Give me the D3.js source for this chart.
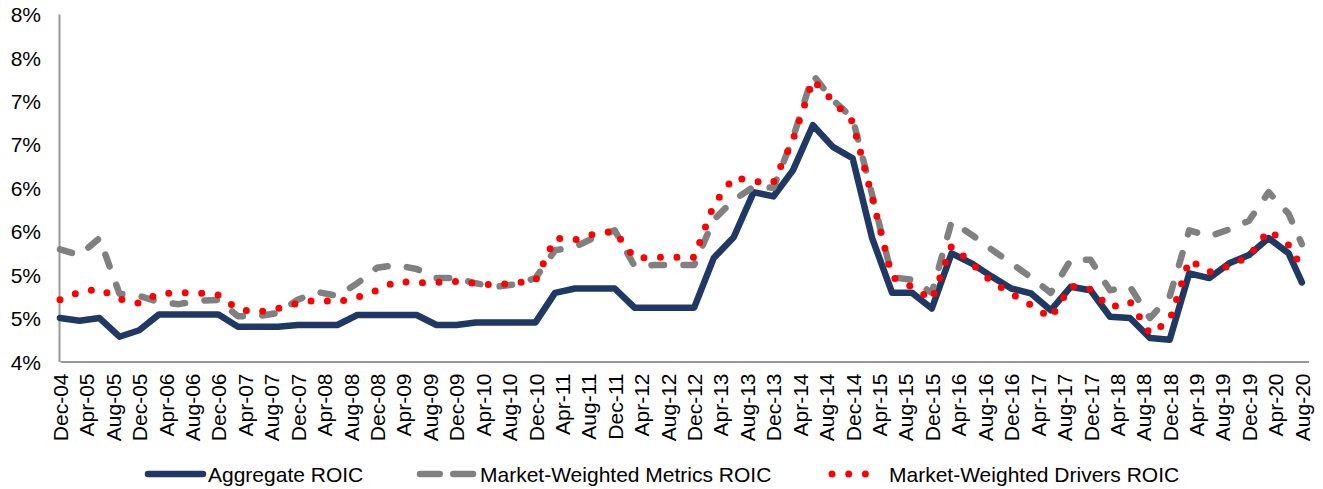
<!DOCTYPE html>
<html>
<head>
<meta charset="utf-8">
<script src="https://cdn.jsdelivr.net/npm/d3@7"></script>
<style>
  html, body { margin: 0; padding: 0; background: #fff; }
  svg { display: block; font-family: "Liberation Sans", Arial, sans-serif; }
</style>
</head>
<body>
<svg id="chart" width="1323" height="489"></svg>
<script>
// Quarterly observation dates (last point is the latest month available)
const periods = [
  "Dec-04","Mar-05","Jun-05","Sep-05","Dec-05","Mar-06","Jun-06","Sep-06","Dec-06",
  "Mar-07","Jun-07","Sep-07","Dec-07","Mar-08","Jun-08","Sep-08","Dec-08",
  "Mar-09","Jun-09","Sep-09","Dec-09","Mar-10","Jun-10","Sep-10","Dec-10",
  "Mar-11","Jun-11","Sep-11","Dec-11","Mar-12","Jun-12","Sep-12","Dec-12",
  "Mar-13","Jun-13","Sep-13","Dec-13","Mar-14","Jun-14","Sep-14","Dec-14",
  "Mar-15","Jun-15","Sep-15","Dec-15","Mar-16","Jun-16","Sep-16","Dec-16",
  "Mar-17","Jun-17","Sep-17","Dec-17","Mar-18","Jun-18","Sep-18","Dec-18",
  "Mar-19","Jun-19","Sep-19","Dec-19","Mar-20","Jun-20","Aug-20"
];

// ROIC, in percent
const aggregateROIC = [
  4.50,4.47,4.50,4.285,4.36,4.54,4.54,4.54,4.54,
  4.40,4.40,4.40,4.42,4.42,4.42,4.535,4.535,
  4.535,4.535,4.42,4.42,4.45,4.45,4.45,4.45,
  4.79,4.84,4.84,4.84,4.62,4.62,4.62,4.62,
  5.19,5.43,5.95,5.90,6.20,6.72,6.47,6.34,
  5.42,4.79,4.79,4.61,5.245,5.13,4.98,4.84,
  4.785,4.59,4.86,4.82,4.515,4.50,4.27,4.25,
  5.015,4.96,5.13,5.225,5.42,5.245,4.91
];
const metricsROIC = [
  5.29,5.225,5.42,4.78,4.755,4.685,4.66,4.70,4.71,
  4.52,4.52,4.56,4.71,4.80,4.755,4.90,5.08,
  5.11,5.065,4.96,4.96,4.90,4.86,4.89,4.96,
  5.28,5.32,5.43,5.51,5.10,5.11,5.11,5.11,
  5.63,5.86,6.01,6.00,6.57,7.30,7.01,6.80,
  5.92,4.97,4.94,4.79,5.61,5.46,5.29,5.13,
  4.97,4.79,5.17,5.17,4.82,4.86,4.50,4.75,
  5.51,5.44,5.52,5.62,5.95,5.70,5.35
];
const driversROIC = [
  4.71,4.80,4.835,4.72,4.67,4.78,4.79,4.79,4.765,
  4.60,4.57,4.61,4.67,4.71,4.685,4.74,4.82,
  4.925,4.905,4.91,4.92,4.90,4.88,4.905,4.93,
  5.42,5.40,5.47,5.50,5.19,5.20,5.20,5.20,
  5.80,6.12,6.07,6.06,6.55,7.24,7.00,6.76,
  5.89,4.97,4.86,4.71,5.33,5.13,4.92,4.78,
  4.65,4.50,4.87,4.83,4.62,4.69,4.32,4.47,
  5.17,5.03,5.10,5.21,5.51,5.34,5.08
];

const seriesNames = ["Aggregate ROIC", "Market-Weighted Metrics ROIC", "Market-Weighted Drivers ROIC"];

const yTickValues = [4, 4.5, 5, 5.5, 6, 6.5, 7, 7.5, 8];
const yTickLabels = ["4%", "5%", "5%", "6%", "6%", "7%", "7%", "8%", "8%"];

const xTickLabels = [
  "Dec-04","Apr-05","Aug-05","Dec-05","Apr-06","Aug-06","Dec-06","Apr-07","Aug-07","Dec-07",
  "Apr-08","Aug-08","Dec-08","Apr-09","Aug-09","Dec-09","Apr-10","Aug-10","Dec-10","Apr-11",
  "Aug-11","Dec-11","Apr-12","Aug-12","Dec-12","Apr-13","Aug-13","Dec-13","Apr-14","Aug-14",
  "Dec-14","Apr-15","Aug-15","Dec-15","Apr-16","Aug-16","Dec-16","Apr-17","Aug-17","Dec-17",
  "Apr-18","Aug-18","Dec-18","Apr-19","Aug-19","Dec-19","Apr-20","Aug-20"
];

// ---- layout ----
const parseMonth = d3.timeParse("%b-%y");
const svg = d3.select("#chart");
const plotLeft = 60, plotRight = 1308.6, plotTop = 14, plotBottom = 361.5;
const fontSize = 21;

const x = d3.scaleTime()
  .domain([parseMonth("Dec-04"), parseMonth("Sep-20")])
  .range([plotLeft, plotRight]);
const y = d3.scaleLinear().domain([4, 8]).range([plotBottom, plotTop]);

svg.append("rect").attr("width", 1323).attr("height", 489).attr("fill", "#fff");

// x axis
const xAxis = svg.append("g")
  .attr("transform", `translate(0,${plotBottom})`)
  .call(d3.axisBottom(x)
    .tickValues(xTickLabels.map(parseMonth))
    .tickSize(0)
    .tickFormat((d, i) => xTickLabels[i]));
xAxis.select(".domain").attr("stroke", "#999").attr("stroke-width", 2);
xAxis.selectAll(".tick text")
  .attr("font-size", fontSize)
  .attr("font-family", "Liberation Sans, Arial, sans-serif")
  .attr("fill", "#000")
  .attr("text-anchor", "end")
  .attr("transform", "translate(0,12) rotate(-90)")
  .attr("x", 0)
  .attr("y", 0)
  .attr("dy", "0.36em");

// y axis
const yAxis = svg.append("g")
  .attr("transform", `translate(${plotLeft - 1},0)`)
  .call(d3.axisLeft(y)
    .tickValues(yTickValues)
    .tickSize(0)
    .tickPadding(18)
    .tickFormat((d, i) => yTickLabels[i]));
yAxis.select(".domain").attr("stroke", "#999").attr("stroke-width", 2);
yAxis.selectAll(".tick text")
  .attr("font-size", fontSize)
  .attr("font-family", "Liberation Sans, Arial, sans-serif")
  .attr("fill", "#000")
  .attr("dy", "0.36em");

// series lines
const dates = periods.map(parseMonth);
const line = d3.line()
  .x((d, i) => x(dates[i]))
  .y(d => y(d));

const styles = [
  { values: aggregateROIC, color: "#1f3864", width: 6.5, dash: null },
  { values: metricsROIC,   color: "#808080", width: 6.5, dash: "12.5 19.5" },
  { values: driversROIC,   color: "#ff0000", width: 7,   dash: "0 16.5" }
];

svg.append("g").selectAll("path")
  .data(styles)
  .join("path")
  .attr("d", s => line(s.values))
  .attr("fill", "none")
  .attr("stroke", s => s.color)
  .attr("stroke-width", s => s.width)
  .attr("stroke-linecap", "round")
  .attr("stroke-linejoin", "round")
  .attr("stroke-dasharray", s => s.dash);

// legend
const legendY = 474;
const legendItems = [
  { x0: 148, x1: 203, tx: 208, dash: null },
  { x0: 420, x1: 475, tx: 480, dash: "19.7 13.6" },
  { x0: 832, x1: 882, tx: 889, dash: "0 16.7" }
];
const legend = svg.append("g");
legendItems.forEach((it, i) => {
  legend.append("line")
    .attr("x1", it.x0).attr("x2", it.x1)
    .attr("y1", legendY).attr("y2", legendY)
    .attr("stroke", styles[i].color)
    .attr("stroke-width", styles[i].width)
    .attr("stroke-linecap", "round")
    .attr("stroke-dasharray", it.dash);
  legend.append("text")
    .attr("x", it.tx)
    .attr("y", legendY)
    .attr("dy", "0.36em")
    .attr("font-size", fontSize)
    .attr("fill", "#000")
    .text(seriesNames[i]);
});
</script>
</body>
</html>
